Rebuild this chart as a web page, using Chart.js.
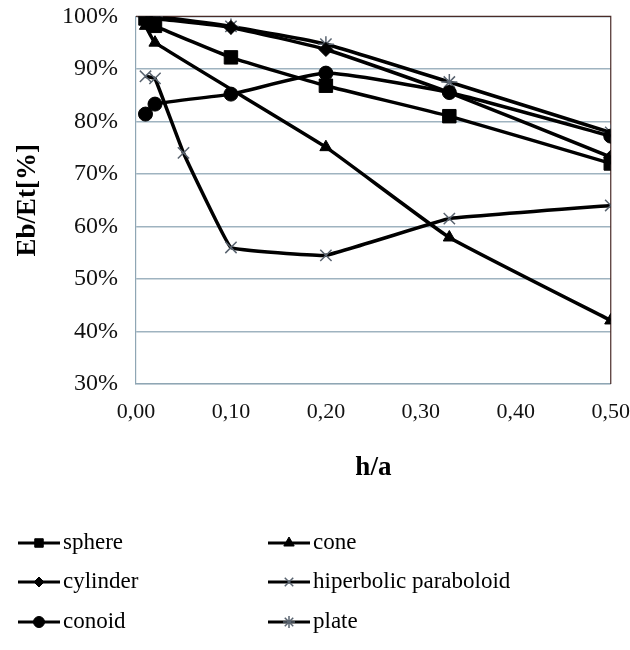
<!DOCTYPE html>
<html>
<head>
<meta charset="utf-8">
<script src="https://cdn.jsdelivr.net/npm/chart.js@4/dist/chart.umd.min.js"></script>
<style>
  html, body { margin: 0; padding: 0; background: #fff; }
  #wrap { width: 630px; height: 650px; }
</style>
</head>
<body>
<div id="wrap"><canvas id="chart" width="630" height="650"></canvas></div>
<script>
// h/a positions of the points
var hA      = [0.01, 0.02, 0.10, 0.20, 0.33, 0.50];
var hACone  = [0.01, 0.02, 0.20, 0.33, 0.50];
var hAHyper = [0.01, 0.02, 0.05, 0.10, 0.20, 0.33, 0.50];

// Eb/Et in %
var sphere   = [99.6, 98.2, 92.2, 86.8, 81.0, 72.0];
var cone     = [98.2, 95.0, 75.1, 57.9, 42.1];
var cylinder = [100, 99.6, 97.9, 93.7, 85.5, 73.2];
var hyper    = [88.6, 88.2, 74.0, 56.0, 54.5, 61.5, 64.0];
var conoid   = [81.4, 83.3, 85.2, 89.2, 85.5, 77.2];
var plate    = [100, 100, 98.1, 94.7, 87.5, 77.9];

var xTicks = [0, 0.1, 0.2, 0.3, 0.4, 0.5];

function pts(xs, ys)
{
    return xs.map(function (x, i) { return {x: x, y: ys[i]}; });
}

var serif = "'Liberation Serif', 'DejaVu Serif', serif";

function series(label, xs, ys, style, radius, markColor, markWidth, tension)
{
    return {
        label: label,
        data: pts(xs, ys),
        borderColor: '#000',
        borderWidth: 3.5,
        backgroundColor: '#000',
        pointStyle: style,
        pointRadius: radius,
        pointBackgroundColor: markColor,
        pointBorderColor: markColor,
        pointBorderWidth: markWidth,
        tension: tension
    };
}

var datasets = [
    series('sphere', hA, sphere, 'rect', 9.5, '#000', 1, 0.15),
    series('cone', hACone, cone, 'triangle', 7, '#000', 1, 0.1),
    series('cylinder', hA, cylinder, 'rectRot', 7, '#000', 1, 0.15),
    series('hiperbolic paraboloid', hAHyper, hyper, 'crossRot', 8, '#5a6470', 1.5, 0.06),
    series('conoid', hA, conoid, 'circle', 7, '#000', 1, 0.15),
    series('plate', hA, plate, 'star', 8, '#5a6470', 1.5, 0.15)
];

// legend marker sizes (smaller than on the plot)
var legendRadius = [6, 6, 5, 6, 5.5, 6];

// top and right frame lines
var framePlugin = {
    id: 'frame',
    beforeDatasetsDraw: function (chart)
    {
        var a = chart.chartArea, ctx = chart.ctx;
        ctx.save();
        ctx.strokeStyle = '#4a2c28';
        ctx.lineWidth = 1.2;
        ctx.beginPath();
        ctx.moveTo(a.left, a.top);
        ctx.lineTo(a.right, a.top);
        ctx.lineTo(a.right, a.bottom);
        ctx.stroke();
        ctx.restore();
    }
};

// two column legend under the plot
var legendPlugin = {
    id: 'twoColLegend',
    afterDraw: function (chart)
    {
        var ctx = chart.ctx;
        var cols = [18, 268];
        var rows = [543, 582, 622];
        ctx.save();
        chart.data.datasets.forEach(function (ds, i)
        {
            var x = cols[i % 2], y = rows[Math.floor(i / 2)];
            ctx.strokeStyle = '#000';
            ctx.lineWidth = 3;
            ctx.beginPath();
            ctx.moveTo(x, y);
            ctx.lineTo(x + 42, y);
            ctx.stroke();
            ctx.fillStyle = ds.pointBackgroundColor;
            ctx.strokeStyle = ds.pointBorderColor;
            ctx.lineWidth = ds.pointBorderWidth;
            Chart.helpers.drawPoint(ctx, {
                pointStyle: ds.pointStyle,
                radius: legendRadius[i],
                borderWidth: ds.pointBorderWidth,
                rotation: 0
            }, x + 21, y);
            ctx.fillStyle = '#000';
            ctx.font = '23px ' + serif;
            ctx.textBaseline = 'middle';
            ctx.fillText(ds.label, x + 45, y);
        });
        ctx.restore();
    }
};

new Chart(document.getElementById('chart'),
    {
        type: 'line',
        data: { datasets: datasets },
        plugins: [framePlugin, legendPlugin],
        options:
        {
            responsive: false,
            animation: false,
            layout: { padding: { top: 0, right: 0, bottom: 166, left: 0 } },
            plugins:
            {
                legend: { display: false },
                tooltip: { enabled: false }
            },
            scales:
            {
                x:
                {
                    type: 'linear',
                    min: 0,
                    max: 0.5,
                    afterBuildTicks: function (s) { s.ticks = xTicks.map(function (v) { return {value: v}; }); },
                    afterFit: function (s) { s.height = 100; },
                    grid: { display: true, drawOnChartArea: false, drawTicks: true, tickLength: 15, color: 'rgba(0,0,0,0)' },
                    border: { display: true, color: '#8fa6b4', width: 1.2 },
                    ticks:
                    {
                        color: '#111',
                        padding: 0,
                        maxRotation: 0,
                        font: { family: serif, size: 22 },
                        callback: function (v) { return v.toFixed(2).replace('.', ','); }
                    },
                    title:
                    {
                        display: true,
                        text: 'h/a',
                        color: '#000',
                        font: { family: serif, size: 27, weight: 'bold' },
                        padding: { top: 4, bottom: 0 }
                    }
                },
                y:
                {
                    min: 30,
                    max: 100,
                    afterFit: function (s) { s.width = 136; },
                    grid: { color: '#9fb3c0', lineWidth: 1.5, drawTicks: true, tickLength: 16, tickColor: 'rgba(0,0,0,0)' },
                    border: { display: true, color: '#8fa6b4', width: 1.2 },
                    ticks:
                    {
                        stepSize: 10,
                        color: '#111',
                        padding: 2,
                        font: { family: serif, size: 24 },
                        callback: function (v) { return v + '%'; }
                    },
                    title:
                    {
                        display: true,
                        text: 'Eb/Et[%]',
                        color: '#000',
                        font: { family: serif, size: 27, weight: 'bold' },
                        padding: { top: 12, bottom: 0 }
                    }
                }
            }
        }
    });
</script>
</body>
</html>
